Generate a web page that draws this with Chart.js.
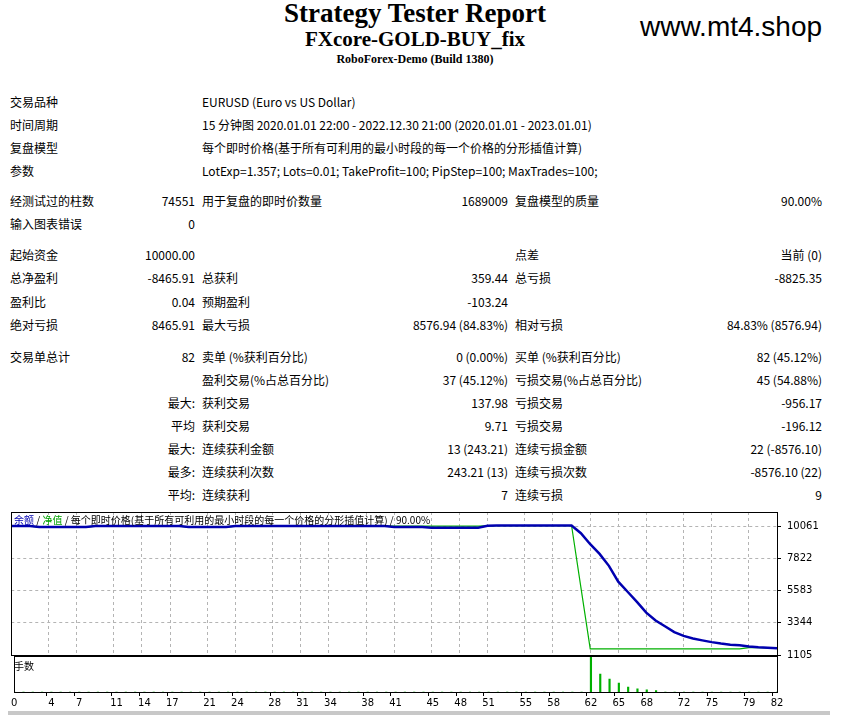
<!DOCTYPE html>
<html>
<head>
<meta charset="utf-8">
<script src="https://cdn.jsdelivr.net/npm/chart.js@4"></script>
<style>
  body { margin: 0; background: #fff; width: 843px; height: 715px; overflow: hidden; position: relative; font-family: "Noto Sans CJK SC", "DejaVu Sans", sans-serif; font-size: 12px; color: #000; }
  .t { position: absolute; white-space: nowrap; line-height: 14px; }
  .r { text-align: right; }
  .title { position: absolute; left: 0; width: 830px; text-align: center; font-family: "Liberation Serif", serif; font-weight: bold; }
  canvas { position: absolute; }
</style>
</head>
<body>
<div class="title" style="top:-2px;font-size:27px;">Strategy Tester Report</div>
<div class="title" style="top:27px;font-size:21px;">FXcore-GOLD-BUY_fix</div>
<div class="title" style="top:52px;font-size:12px;">RoboForex-Demo (Build 1380)</div>
<div class="t" style="left:640px;top:11px;font-size:28px;line-height:32px;font-family:'Liberation Sans',sans-serif;">www.mt4.shop</div>
<div id="rows"></div>

<canvas id="mainChart" width="830" height="170" style="left:10px;top:500px;"></canvas>
<canvas id="lotsChart" width="830" height="60" style="left:10px;top:656px;"></canvas>
<div class="t" style="left:14px;top:513px;font-size:10px;"><span style="color:#0000b0">余额</span> / <span style="color:#00a000">净值</span> / 每个即时价格(基于所有可利用的最小时段的每一个价格的分形插值计算) / 90.00%</div>
<div class="t" style="left:14px;top:659px;font-size:10px;">手数</div>
<div style="position:absolute;left:8px;top:711px;width:822px;height:4px;background:#c8c8c8;"></div>

<script>
// report rows: [y, label1, value1, label2, value2, label3, value3]
const reportRows = [
  [102, "交易品种", "", "EURUSD (Euro vs US Dollar)", "", "", ""],
  [125, "时间周期", "", "15 分钟图 2020.01.01 22:00 - 2022.12.30 21:00 (2020.01.01 - 2023.01.01)", "", "", ""],
  [148, "复盘模型", "", "每个即时价格(基于所有可利用的最小时段的每一个价格的分形插值计算)", "", "", ""],
  [171, "参数", "", "LotExp=1.357; Lots=0.01; TakeProfit=100; PipStep=100; MaxTrades=100;", "", "", ""],
  [201, "经测试过的柱数", "74551", "用于复盘的即时价数量", "1689009", "复盘模型的质量", "90.00%"],
  [224, "输入图表错误", "0", "", "", "", ""],
  [255, "起始资金", "10000.00", "", "", "点差", "当前 (0)"],
  [278, "总净盈利", "-8465.91", "总获利", "359.44", "总亏损", "-8825.35"],
  [302, "盈利比", "0.04", "预期盈利", "-103.24", "", ""],
  [325, "绝对亏损", "8465.91", "最大亏损", "8576.94 (84.83%)", "相对亏损", "84.83% (8576.94)"],
  [357, "交易单总计", "82", "卖单 (%获利百分比)", "0 (0.00%)", "买单 (%获利百分比)", "82 (45.12%)"],
  [380, "", "", "盈利交易(%占总百分比)", "37 (45.12%)", "亏损交易(%占总百分比)", "45 (54.88%)"],
  [403, "", "最大:", "获利交易", "137.98", "亏损交易", "-956.17"],
  [426, "", "平均", "获利交易", "9.71", "亏损交易", "-196.12"],
  [449, "", "最大:", "连续获利金额", "13 (243.21)", "连续亏损金额", "22 (-8576.10)"],
  [472, "", "最多:", "连续获利次数", "243.21 (13)", "连续亏损次数", "-8576.10 (22)"],
  [495, "", "平均:", "连续获利", "7", "连续亏损", "9"]
];

const tickLabels = [0, 4, 7, 11, 14, 17, 21, 24, 28, 31, 34, 38, 41, 45, 48, 51, 55, 58, 62, 65, 68, 72, 75, 79, 82];
const yTicks = [1105, 3344, 5583, 7822, 10061];

const balance = [
  10061, 10061, 10061, 9990, 9990, 9990, 9990, 9990, 9990, 10061,
  10061, 10061, 10061, 10061, 10061, 10061, 10061, 10061, 10061, 9990,
  9990, 9990, 9990, 9990, 10061, 10061, 10061, 10061, 10061, 10061,
  10061, 10061, 10061, 10061, 10061, 10061, 10061, 10061, 10061, 10061,
  10061, 10000, 10000, 10000, 10000, 9950, 9950, 9950, 9950, 9950,
  9950, 10080, 10100, 10100, 10100, 10100, 10100, 10100, 10100, 10100,
  10100, 9570, 8800, 8130, 7300, 6200, 5500, 4800, 4050, 3500,
  3100, 2700, 2430, 2250, 2120, 2000, 1900, 1820, 1780, 1700,
  1640, 1610, 1580
];
const equity = [
  10061, 10061, 10061, 9990, 9990, 9990, 9990, 9990, 9990, 10061,
  10061, 10061, 10061, 10061, 10061, 10061, 10061, 10061, 10061, 9990,
  9990, 9990, 9990, 9990, 10061, 10061, 10061, 10061, 10061, 10061,
  10061, 10061, 10061, 10061, 10061, 10061, 10061, 10061, 10061, 10061,
  10061, 10061, 10061, 10061, 10061, 10061, 10061, 10061, 10061, 10061,
  10061, 10080, 10100, 10100, 10100, 10100, 10100, 10100, 10100, 10100,
  10100, 5800, 1530, 1530, 1530, 1530, 1530, 1530, 1530, 1530,
  1530, 1530, 1530, 1530, 1530, 1530, 1530, 1530, 1530, 1620,
  1610, 1600, 1580
];
const lots = [];
for (let i = 0; i <= 82; i++) lots.push(0);
lots[62] = 1.0; lots[63] = 0.5; lots[64] = 0.36; lots[65] = 0.25;
lots[66] = 0.14; lots[67] = 0.09; lots[68] = 0.06; lots[69] = 0.04;

const labels = balance.map((v, i) => i);

let html = "";
reportRows.forEach(r => {
  const y = r[0] - 7;
  if (r[1]) html += `<div class="t" style="left:10px;top:${y}px">${r[1]}</div>`;
  if (r[2]) html += `<div class="t r" style="left:100px;width:95px;top:${y}px">${r[2]}</div>`;
  if (r[3]) html += `<div class="t" style="left:202px;top:${y}px">${r[3]}</div>`;
  if (r[4]) html += `<div class="t r" style="left:380px;width:128px;top:${y}px">${r[4]}</div>`;
  if (r[5]) html += `<div class="t" style="left:515px;top:${y}px">${r[5]}</div>`;
  if (r[6]) html += `<div class="t r" style="left:680px;width:142px;top:${y}px">${r[6]}</div>`;
});
document.getElementById("rows").innerHTML = html;

const frame = {
  id: 'frame',
  afterDraw(chart) {
    const a = chart.chartArea, c = chart.ctx;
    c.save();
    c.strokeStyle = '#000';
    c.lineWidth = 1;
    c.strokeRect(Math.round(a.left) + 0.5, Math.round(a.top) + 0.5, Math.round(a.right - a.left), Math.round(a.bottom - a.top));
    c.restore();
  }
};
const fixWidth = s => { s.width = 63; };
const isTick = i => tickLabels.includes(i);

const mainChart = new Chart(document.getElementById('mainChart'), {
  type: 'line',
  data: {
    labels: labels,
    datasets: [
      { data: balance, borderColor: '#0000b0', borderWidth: 2.5, pointRadius: 0, tension: 0 },
      { data: equity, borderColor: '#00b000', borderWidth: 1.2, pointRadius: 0, tension: 0 }
    ]
  },
  options: {
    responsive: false, maintainAspectRatio: false, animation: false, devicePixelRatio: 1,
    layout: { padding: { bottom: 9, top: 0, left: 0, right: 0 } },
    plugins: { legend: { display: false }, tooltip: { enabled: false } },
    scales: {
      x: {
        offset: false,
        ticks: { display: false, autoSkip: false },
        grid: { color: ctx => isTick(ctx.index) ? '#b4b4b4' : 'transparent', drawTicks: false },
        border: { display: false, dash: [3, 3] }
      },
      y: {
        position: 'right', min: 1105, max: 11040,
        afterFit: fixWidth,
        afterBuildTicks: s => { s.ticks = yTicks.map(v => ({ value: v })); },
        ticks: { color: '#000', font: { size: 10, family: 'DejaVu Sans' }, padding: 6, callback: v => String(v) },
        grid: { color: '#b4b4b4', tickLength: 4, tickColor: '#000' },
        border: { display: false, dash: [3, 3] }
      }
    }
  },
  plugins: [frame]
});

const lotsChart = new Chart(document.getElementById('lotsChart'), {
  type: 'bar',
  data: {
    labels: labels,
    datasets: [{ data: lots, backgroundColor: '#00b000', barThickness: 1.5 }]
  },
  options: {
    responsive: false, maintainAspectRatio: false, animation: false, devicePixelRatio: 1,
    layout: { padding: 0 },
    plugins: { legend: { display: false }, tooltip: { enabled: false } },
    scales: {
      x: {
        offset: false,
        ticks: { autoSkip: false, maxRotation: 0, color: '#000', font: { size: 10, family: 'DejaVu Sans' }, padding: 1,
                 callback: (v, i) => isTick(i) ? String(labels[i]) : '' },
        grid: { drawOnChartArea: false, tickLength: 4, color: ctx => isTick(ctx.index) ? '#000' : 'transparent' },
        border: { display: false }
      },
      y: {
        position: 'right', min: 0, max: 1.0,
        afterFit: fixWidth,
        ticks: { display: false },
        grid: { display: false },
        border: { display: false }
      }
    }
  },
  plugins: [frame]
});

// place each plot area where the report has it
function place(chart, top, height) {
  const a = chart.chartArea;
  const extra = chart.height - (a.bottom - a.top);
  chart.resize(830, Math.round(height + extra));
  chart.canvas.style.top = Math.round(top - chart.chartArea.top) + 'px';
}
place(mainChart, 512, 143);
place(lotsChart, 656, 36);
</script>
</body>
</html>
